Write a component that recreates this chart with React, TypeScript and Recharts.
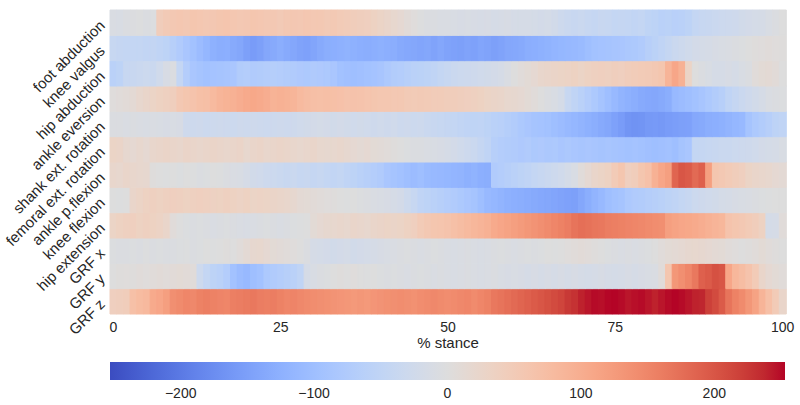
import React from "react";
import { BarChart, Bar, XAxis, YAxis, Cell, ComposedChart } from "recharts";

// rows top -> bottom
const rowNames = [
  "foot abduction", "knee valgus", "hip abduction", "ankle eversion",
  "shank ext. rotation", "femoral ext. rotation", "ankle p.flexion", "knee flexion",
  "hip extension", "GRF x", "GRF y", "GRF z",
];

// % stance, one cell per percent (0..100)
const stance = Array.from({ length: 101 }, (_, i) => i);

const footAbduction = [
  -8, -10, -6, -4, -2, -5, -3,
  45, 52, 55, 58, 56, 60, 58, 55, 57, 60, 62, 58, 55, 57, 60, 58, 56, 55, 52,
  55, 57, 55, 58, 56, 55, 52, 54, 50, 48, 45, 42, 40, 35, 30,
  25, 20, 15, 8, 3, -2, -5, -6, -8, -8,
  -10, -12, -10, -12, -14, -12, -15, -14, -12, -15, -16, -15, -18, -20, -18, -22, -30,
  -35, -38, -35, -40, -42, -38, -40, -45, -42,
  -45, -48, -45, -52, -55, -60, -58, -62, -60, -55,
  -45, -40, -38, -35, -32, -30, -28,
  -22, -20, -18, -15, -10, -5, 0,
];
const kneeValgus = [
  -40, -42, -45, -44, -45, -48, -46, -50, -55,
  -65, -75, -85, -95, -105, -115,
  -125, -130, -128, -135, -140, -150, -155, -150, -140, -135, -130,
  -135, -140, -145, -148, -142, -135, -130, -128, -125, -122, -125, -128, -130, -128, -125,
  -128, -130, -135, -138, -140, -142, -140, -145, -140, -145,
  -148, -150, -145, -148, -142, -145, -150, -145, -140, -138,
  -135, -130, -128, -125, -122, -118, -115, -112, -110, -108,
  -100, -95, -92, -90, -88, -85, -82, -80, -75,
  -65, -58, -50, -42, -35, -30, -25,
  -20, -18, -15, -12, -10, -8, -5,
  -3, 0, 2, 3, 5, 3, 2,
];
const hipAbduction = [
  -60, -55, -40, -38, -35, -32, -35, -25, -12, -5,
  -45, -70, -85, -90, -95, -92, -90, -88, -85,
  -72, -70, -75, -72, -70, -68, -70,
  -72, -75, -78, -80, -76, -78, -80, -85,
  -95, -98, -100, -98, -95, -92, -88, -80,
  -72, -70, -65, -60, -58, -55, -50, -45, -40,
  -35, -32, -30, -28, -25, -22, -20, -15, -8,
  0, 5, 10, 15,
  22, 25, 28, 30, 32, 35, 30, 35, 38, 40, 38, 42, 40,
  45, 48, 50, 52, 55, 60,
  90, 110, 95, 30,
  0, -5, -10, -15, -15, -12, -15, -10, -5,
  5, 10, 12, 8, 0,
];
const ankleEversion = [
  3, 5, 8, 12,
  20, 25, 30, 35, 38, 42,
  55, 60, 65, 70, 72, 80,
  88, 92, 95, 100, 105, 108, 105, 100, 92, 95,
  92, 88, 80, 75, 72, 70, 72, 70, 68, 65, 66, 65, 62, 60, 58,
  58, 55, 55, 52, 50, 52, 50, 48, 47, 45,
  45, 42, 40, 38, 35,
  30, 28, 25, 20, 18, 15, 10,
  5, 0, -5, -10, -18,
  -40, -50, -60, -70, -80, -90, -100, -110, -120,
  -125, -130, -135, -138, -140, -135, -130,
  -110, -105, -100, -95, -88, -80, -72, -65,
  -50, -42, -35, -28, -22, -15,
  -8, -5, -3,
];
const shankExtRotation = [
  -5, -5, -8, -6, -8, -10, -8, -10, -12, -10, -12,
  -28, -30, -28, -32, -30, -28, -30, -32, -28, -30, -28, -30, -32, -30, -28,
  -30, -28, -25, -22, -20, -18, -20, -22, -20, -22, -25, -22, -25, -28, -25,
  -28, -25, -30, -28, -32, -30, -35, -38, -40, -42,
  -45, -48, -50, -52, -50, -55, -60, -62, -68, -72,
  -80, -85, -90, -92, -95,
  -100, -105, -110, -115, -120, -125, -130, -135, -140, -148, -155,
  -165, -168, -165, -160, -158, -160, -155, -152, -150, -148,
  -138, -135, -130, -128, -125, -120, -115, -110,
  -90, -80, -72, -65, -55, -50,
];
const femoralExtRotation = [
  30, 28, 18, 15, 20, 15, 22, 25, 28, 25, 22, 28, 25, 22, 25, 28, 25, 22, 25, 28, 20, 25, 28, 22, 25, 28,
  25, 22, 20, 22, 25, 20, 18, 20, 22, 18, 15, 12, 15, 10, 8,
  5, 2, 0, -3, -5, -5, -8, -10, -12, -15,
  -20, -25, -30, -35, -42, -50,
  -65, -70, -72, -75, -78, -75, -80, -78, -82, -80, -85, -82, -85, -88, -85, -88, -90, -88, -90, -92,
  -95, -92, -95, -98, -100, -98, -95, -100, -90, -85,
  -45, -42, -40, -38, -35, -35, -32, -30, -28, -25,
  -20, -18, -15, -10,
];
const anklePFlexion = [
  22, 20, 25, 22, 20, 18,
  2, 0, -2, 0, -3, 0, -2, -5, -3, 0, -2, -5, -8, -10, -15,
  -22, -25, -30, -32, -35, -38, -35, -40, -38, -42, -40, -45, -48, -45,
  -50, -55, -60, -65, -70, -75, -85, -90,
  -95, -100, -105, -100, -108, -110, -112, -115, -118, -120, -125, -122, -128, -130,
  -75, -70, -65, -60, -55, -50, -45, -40, -35, -30, -25, -18, -10,
  5, 15, 25, 30, 35, 50, 60,
  40, 45, 60, 68, 95, 110, 120,
  185, 200, 195, 180, 190,
  120, 60, 55, 50, 45, 40,
  30, 25, 22, 20, 15, 12,
];
const kneeFlexion = [
  0, -2, 0,
  25, 30, 35, 38, 35, 38, 40, 38, 35, 38, 40, 38, 36, 35, 38, 35, 32, 35, 30, 32, 30, 28, 25, 22, 18,
  12, 10, 8, 5, 3, 2, 0, -2, 0, -3, -5, -8, -10, -12, -15, -20,
  -30, -40, -50, -55, -60, -65, -70, -75, -80, -85, -90, -100,
  -110, -115, -120, -125, -128, -130, -132, -135, -138, -140, -142, -145, -148, -150,
  -140, -130, -120, -110, -100, -95, -90,
  -80, -75, -72, -68, -65, -60, -55, -50, -45, -40,
  -32, -28, -25, -22, -18, -15, -12, -10,
  -8, -5, -3, -2, 0, 0,
];
const hipExtension = [
  30, 35, 38, 40, 35, 38, 35, 32, 25,
  5, 0, -3, -5, -3, -5, -8, -5, -3, -5, -8, -10, -8, -5, -3, -5, -8, -5, -3, -2, 0,
  10, 15, 18, 20, 22, 20, 25, 22, 20, 25, 28, 30, 28, 30, 35, 40,
  50, 55, 60, 62, 65, 70, 75, 80, 85, 90, 95,
  105, 110, 115, 120, 125, 130, 135, 140, 145, 150, 155, 160,
  170, 175, 172, 168, 165, 160, 158,
  155, 152, 150, 148, 145, 142, 140,
  120, 115, 110, 108, 105, 100, 95, 90, 85,
  65, 60, 55, 50, 45, 35,
  -18, -15, 5,
];
const grfX = [
  -3, -5, -5, -3, -5, -2, -5, -3, -5, -5, -3, -2, -5, -3, 0, -2, 0, 2, 0, 5,
  12, 18, 20, 15, 10, 8, 5, 3, 0, -5,
  -15, -18, -20, -22, -20, -18, -22, -20, -18, -15, -12, -10, -8,
  -5, -3, -5, -8, -5, -3, -5, -8, -10, -8, -5, -8, -10, -8, -5, -3, -5, -8, -5, -3, -5, -3, 0, -2,
  0, 3, 5, 8, 5, 2, 0, -3, -5, -8, -5, -8, -5, -3, 0, 5,
  10, 12, 15, 18, 20, 18, 15, 12, 10,
  5, 3, 0, 2, 5, 10, 5, 2, 0,
];
const grfY = [
  0, 2, 3, 2, 5, 3, 5, 8, 5, 8, 10, 8, 5,
  -30, -45, -55, -60, -70,
  -95, -105, -110, -100, -95,
  -80, -75, -70, -65, -60, -50,
  -15, -10, -5, -3, 0, 2, 0, 3, 0, -2, 0, -3,
  -5, -3, -5, -8, -5, -3, -5, -8, -5, -8, -10, -8, -5, -8, -10, -8, -5, -10, -12, -10, -12, -15, -12, -15, -12, -15,
  -12, -15, -12, -15, -18, -15, -12, -15, -18, -15, -12, -15, -12, -10, -8, 5,
  60, 130, 140, 150, 165, 190, 195, 205, 200,
  110, 85, 75, 65, 50,
  25, 15, 10, 5,
];
const grfZ = [
  40, 42, 45,
  70, 78, 82,
  105, 110, 120,
  140, 145, 150, 148, 155, 158, 155, 152, 150, 158, 160, 162, 165, 160, 158, 160, 155,
  150, 152, 148, 145, 142, 140, 138, 135, 132, 130, 128, 130, 128, 132, 135,
  138, 140, 142, 140, 138, 142, 145, 148, 145, 142, 145, 148, 150, 145, 150, 155,
  165, 170, 175, 180, 185, 190, 195, 200,
  205, 210, 215, 225, 230,
  240, 245, 250, 248, 252, 253, 250, 245, 248, 250, 245, 240, 245, 250, 253, 250, 245, 240, 238,
  220, 210, 195,
  170, 155, 145, 130, 115,
  90, 70, 50, 25,
];

const rows = [
  footAbduction, kneeValgus, hipAbduction, ankleEversion, shankExtRotation, femoralExtRotation,
  anklePFlexion, kneeFlexion, hipExtension, grfX, grfY, grfZ,
];

const xTickEvery = 25;
const colorbarTicks = [-200, -100, 0, 100, 200];
const vmax = 253;

// matplotlib "coolwarm"
const coolwarm = [
  [59, 76, 192], [68, 90, 204], [77, 104, 215], [87, 117, 225], [98, 130, 234], [108, 142, 241],
  [119, 154, 247], [130, 165, 251], [141, 176, 254], [152, 185, 255], [163, 194, 255], [174, 201, 253],
  [184, 208, 249], [194, 213, 244], [204, 217, 238], [213, 219, 230], [221, 221, 221], [229, 216, 209],
  [236, 211, 197], [241, 204, 185], [245, 196, 173], [247, 187, 160], [247, 177, 148], [247, 166, 135],
  [244, 154, 123], [241, 141, 111], [236, 127, 99], [229, 112, 88], [222, 96, 77], [213, 80, 66],
  [203, 62, 56], [192, 40, 47], [180, 4, 38],
];

const rgb = (c: number[]) => `rgb(${c.map((v) => Math.round(v)).join(",")})`;

function colorFor(v: number) {
  let t = (v + vmax) / (2 * vmax);
  t = Math.max(0, Math.min(1, t));
  const p = t * (coolwarm.length - 1);
  const i = Math.min(Math.floor(p), coolwarm.length - 2);
  const f = p - i;
  const a = coolwarm[i];
  const b = coolwarm[i + 1];
  return rgb([0, 1, 2].map((k) => a[k] + (b[k] - a[k]) * f));
}

// each row is a stacked unit block; bottom of the stack is the last row
const heatData = stance.map((s) => {
  const d: any = { stance: s };
  rows.forEach((_, k) => (d[`r${k}`] = 1));
  return d;
});
const stackOrder = rows.map((_, k) => rows.length - 1 - k);

// colorbar is a single range bar spanning the color limits
const colorbarData = [{ name: "cb", span: [-vmax, vmax] }];

const FONT = "'Liberation Sans', Arial, sans-serif";
const TXT = "#262626";

const RowTick = (props: any) => {
  const { x, y, payload } = props;
  const name = rowNames[rows.length - 1 - Math.floor(payload.value)];
  return (
    <text
      x={x}
      y={y}
      transform={`rotate(-45, ${x}, ${y})`}
      textAnchor="end"
      dominantBaseline="central"
      fontSize={15}
      fontFamily={FONT}
      fill={TXT}
    >
      {name}
    </text>
  );
};

export default function App() {
  return (
    <div style={{ position: "absolute", left: 0, top: 0, width: 800, height: 405, background: "#fff" }}>
      <svg width={0} height={0} style={{ position: "absolute" }}>
        <defs>
          <linearGradient id="cw" x1="0" y1="0" x2="1" y2="0">
            {coolwarm.map((c, i) => (
              <stop key={i} offset={i / (coolwarm.length - 1)} stopColor={rgb(c)} />
            ))}
          </linearGradient>
        </defs>
      </svg>
      <div style={{ position: "absolute", left: 0, top: 0 }}>
        <BarChart
          width={800}
          height={360}
          data={heatData}
          margin={{ top: 10, right: 14, bottom: 0, left: 0 }}
          barCategoryGap={0}
          barGap={0}
        >
          <XAxis
            dataKey="stance"
            type="category"
            interval={xTickEvery - 1}
            height={46}
            tickLine={false}
            axisLine={false}
            tick={{ fontSize: 14, fill: TXT, fontFamily: FONT }}
            label={{ value: "% stance", position: "insideBottom", offset: 12, fontSize: 15, fill: TXT, fontFamily: FONT }}
          />
          <YAxis
            type="number"
            domain={[0, rows.length]}
            ticks={rows.map((_, k) => k + 0.5)}
            width={110}
            tickLine={false}
            axisLine={false}
            interval={0}
            tick={<RowTick />}
          />
          {stackOrder.map((k) => (
            <Bar key={k} dataKey={`r${k}`} stackId="a" isAnimationActive={false}>
              {rows[k].map((v, i) => (
                <Cell key={i} fill={colorFor(v)} stroke={colorFor(v)} strokeWidth={1} />
              ))}
            </Bar>
          ))}
        </BarChart>
      </div>
      <div style={{ position: "absolute", left: 0, top: 352 }}>
        <ComposedChart
          width={800}
          height={50}
          layout="vertical"
          data={colorbarData}
          margin={{ top: 10, right: 15, bottom: 0, left: 110 }}
          barCategoryGap={0}
        >
          <XAxis
            type="number"
            domain={[-vmax, vmax]}
            ticks={colorbarTicks}
            height={22}
            tickLine={false}
            axisLine={false}
            tickFormatter={(v: number) => (v < 0 ? `\u2212${Math.abs(v)}` : `${v}`)}
            tick={{ fontSize: 14, fill: TXT, fontFamily: FONT }}
          />
          <YAxis type="category" dataKey="name" hide />
          <Bar dataKey="span" fill="url(#cw)" isAnimationActive={false} />
        </ComposedChart>
      </div>
    </div>
  );
}
